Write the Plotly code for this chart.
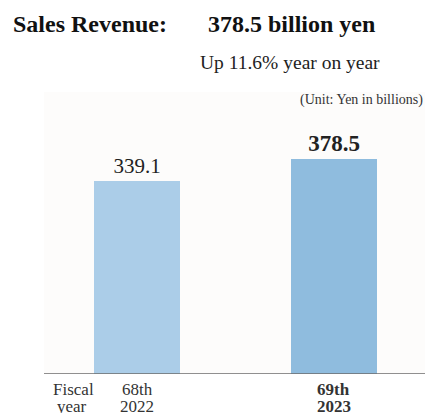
import plotly.graph_objects as go

year_top = ["68th", "<b>69th</b>"]
year_bottom = ["2022", "<b>2023</b>"]
values = [339.1, 378.5]
value_labels = ["339.1", "<b>378.5</b>"]
bar_colors = ["#abcde8", "#8fbcde"]
x_pos = [0, 1]

SERIF = "Liberation Serif, Times New Roman, serif"

fig = go.Figure()
fig.add_trace(go.Bar(
    x=x_pos, y=values, width=0.436,
    marker=dict(color=bar_colors, line=dict(width=0)),
    text=value_labels, textposition="outside", cliponaxis=False,
    textfont=dict(family=SERIF, size=[21, 23], color="#222"),
    hoverinfo="skip",
))

fig.update_layout(
    width=425, height=413,
    margin=dict(l=44, r=0, t=92, b=39),
    paper_bgcolor="white",
    plot_bgcolor="#fdfcfb",
    showlegend=False,
    bargap=0,
    xaxis=dict(
        range=[-0.4745, 1.4643], showticklabels=False, automargin=False,
        showgrid=False, zeroline=False, showline=False, ticks="",
        fixedrange=True,
    ),
    yaxis=dict(range=[0, 496], visible=False, fixedrange=True, automargin=False),
    uniformtext=dict(mode=False),
)

# baseline
fig.add_shape(type="line", xref="paper", yref="y", x0=0, x1=1, y0=0, y1=0,
              line=dict(color="#6b6b6b", width=1.5))

label_font = dict(family=SERIF, size=17, color="#333")
Y1, Y2 = -0.0567, -0.117
for xp, t1, t2 in zip(x_pos, year_top, year_bottom):
    fig.add_annotation(xref="x", yref="paper", x=xp, y=Y1, yanchor="middle",
                       text=t1, showarrow=False, font=label_font)
    fig.add_annotation(xref="x", yref="paper", x=xp, y=Y2, yanchor="middle",
                       text=t2, showarrow=False, font=label_font)

fig.add_annotation(xref="paper", yref="paper", x=0.018, y=Y1, xanchor="left",
                   yanchor="middle", text="Fiscal", showarrow=False, font=label_font)
fig.add_annotation(xref="paper", yref="paper", x=0.03, y=Y2, xanchor="left",
                   yanchor="middle", text="year", showarrow=False, font=label_font)

fig.add_annotation(xref="paper", yref="paper", x=1, y=1, xanchor="right",
                   yanchor="middle", yshift=-8, xshift=0,
                   text="(Unit: Yen in billions)", showarrow=False,
                   font=dict(family=SERIF, size=14, color="#333"))

fig.add_annotation(xref="paper", yref="paper", x=-0.087, y=1, xanchor="left",
                   yanchor="middle", yshift=92 - 24, text="<b>Sales Revenue:</b>",
                   showarrow=False, font=dict(family=SERIF, size=24, color="#111"))
fig.add_annotation(xref="paper", yref="paper", x=0.424, y=1, xanchor="left",
                   yanchor="middle", yshift=92 - 24, text="<b>378.5 billion yen</b>",
                   showarrow=False, font=dict(family=SERIF, size=24, color="#111"))
fig.add_annotation(xref="paper", yref="paper", x=0.405, y=1, xanchor="left",
                   yanchor="middle", yshift=92 - 62, text="Up 11.6% year on year",
                   showarrow=False, font=dict(family=SERIF, size=19.5, color="#222"))

fig.write_html("out.html", config={"displayModeBar": False},
               post_script="document.body.style.margin='0';document.body.style.overflow='hidden';")
